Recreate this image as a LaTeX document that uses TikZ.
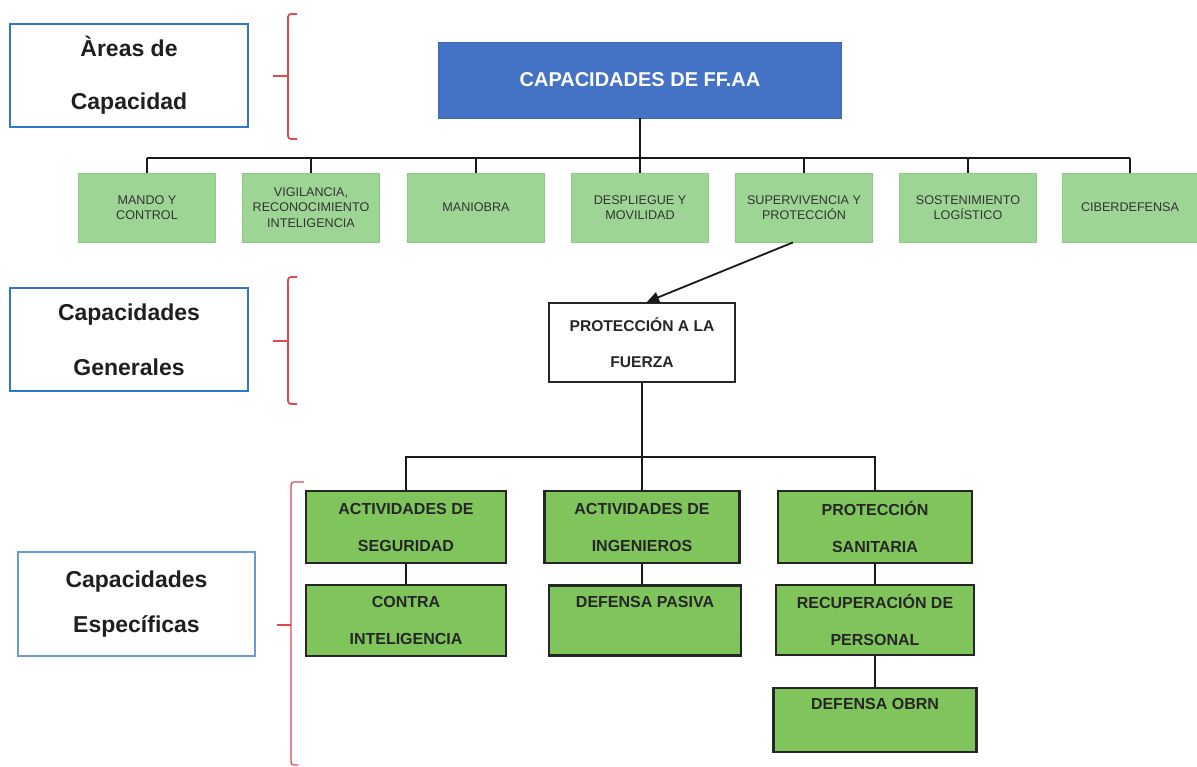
\documentclass[tikz,border=0pt]{standalone}
\usepackage{fontspec}
\setmainfont{Liberation Sans}
\usetikzlibrary{arrows.meta}
\definecolor{blueA}{HTML}{4472C4}
\definecolor{lblue}{HTML}{2E78C8}
\definecolor{lblueB}{HTML}{6C9AD6}
\definecolor{redB}{HTML}{E04850}
\definecolor{greenL}{HTML}{9DD594}
\definecolor{greenLd}{HTML}{8CC983}
\definecolor{greenD}{HTML}{80C45C}
\begin{document}
\begin{tikzpicture}[x=1pt,y=-1pt,
  lab/.style={draw=lblue,line width=1.6pt,fill=white,minimum width=238pt,minimum height=103pt,inner sep=0pt,align=center,text=black!88},
  capbox/.style={fill=blueA,draw=blueA!90!black,line width=0.6pt,minimum width=403pt,minimum height=76pt,inner sep=0pt,text=white,font=\fontsize{20}{24}\selectfont\bfseries},
  areabox/.style={fill=greenL,draw=greenLd,line width=0.8pt,minimum width=137pt,minimum height=69pt,inner sep=0pt,align=center,text=black!80,font=\fontsize{12.6}{15.5}\selectfont},
  wbox/.style={fill=white,draw=black!85,line width=2.2pt,minimum width=186pt,minimum height=79pt,inner sep=0pt,align=center,text=black!85,font=\fontsize{15.6}{36}\selectfont\bfseries},
  gbox/.style={fill=greenD,draw=black!85,line width=2.4pt,minimum height=71pt,inner sep=0pt,align=center,text=black!85,font=\fontsize{16}{37}\selectfont\bfseries},
  conn/.style={draw=black!90,line width=2.8pt},
  brk/.style={draw=redB,line width=1.8pt,rounded corners=3pt}
]
\useasboundingbox (0,0) rectangle (1197,767);
\fill[white] (0,0) rectangle (1197,767);

% left labels
\node[lab,font=\fontsize{23}{53}\selectfont\bfseries] (l1) at (129,75.5) {Àreas de\\Capacidad};
\node[lab,font=\fontsize{23}{55}\selectfont\bfseries] (l2) at (129,339.5) {Capacidades\\Generales};
\node[lab,draw=lblueB,minimum width=237pt,minimum height=104pt,font=\fontsize{23}{45}\selectfont\bfseries] (l3) at (136.5,604) {Capacidades\\Específicas};

% red brackets
\draw[brk] (297,14) -- (288,14) -- (288,139) -- (297,139);
\draw[brk,rounded corners=0pt] (273,76) -- (288,76);
\draw[brk] (297,277) -- (288,277) -- (288,404) -- (297,404);
\draw[brk,rounded corners=0pt] (273,341) -- (288,341);
\draw[brk,line width=1.3pt] (304,482) -- (291,482) -- (291,765) -- (298,765);
\draw[brk,line width=1.3pt,rounded corners=0pt] (277,625) -- (291,625);

% top box
\node[capbox] (cap) at (640,80) {CAPACIDADES DE FF.AA};

% areas
\node[areabox] (b1) at (147,207.5) {MANDO Y\\CONTROL};
\node[areabox] (b2) at (311,207.5) {VIGILANCIA,\\RECONOCIMIENTO\\INTELIGENCIA};
\node[areabox] (b3) at (476,207.5) {MANIOBRA};
\node[areabox] (b4) at (640,207.5) {DESPLIEGUE Y\\MOVILIDAD};
\node[areabox] (b5) at (804,207.5) {SUPERVIVENCIA Y\\PROTECCIÓN};
\node[areabox] (b6) at (968,207.5) {SOSTENIMIENTO\\LOGÍSTICO};
\node[areabox,minimum width=135pt] (b7) at (1130,207.5) {CIBERDEFENSA};

\coordinate (bus1) at (640,158);
\draw[conn] (b1.north |- bus1) -- (b7.north |- bus1);
\draw[conn,line width=2.4pt] (cap.south) -- (bus1);
\foreach \n in {b1,b2,b3,b4,b5,b6,b7} \draw[conn,line width=2.4pt] (bus1 -| \n.north) -- (\n.north);

% general capability
\node[wbox] (pf) at (642,342.5) {PROTECCIÓN A LA\\FUERZA};
\draw[draw=black!90,line width=1.8pt,-{Triangle[length=12pt,width=11pt]}] ([xshift=-11pt]b5.south) -- ([xshift=5pt]pf.north);

% specific capabilities
\node[gbox,minimum width=200pt,minimum height=72pt] (s1) at (406,527) {ACTIVIDADES DE\\SEGURIDAD};
\node[gbox,minimum width=200pt] (s2) at (406,620.5) {CONTRA\\INTELIGENCIA};
\node[gbox,minimum width=195pt,minimum height=72pt] (i1) at (642,527) {ACTIVIDADES DE\\INGENIEROS};
\node[gbox,minimum width=192pt,minimum height=70pt] (i2) at (645,620.5) {DEFENSA PASIVA\\\vphantom{A}};
\node[gbox,minimum width=194pt,minimum height=72pt] (p1) at (875,527) {PROTECCIÓN\\SANITARIA};
\node[gbox,minimum width=198pt,minimum height=70pt] (p2) at (875,620) {RECUPERACIÓN DE\\PERSONAL};
\node[gbox,minimum width=203pt,minimum height=64pt,font=\fontsize{16}{32}\selectfont\bfseries] (p3) at (875,720) {DEFENSA OBRN\\\vphantom{A}};

\coordinate (bus2) at (642,457);
\draw[conn] (pf.south) -- (bus2);
\draw[conn] (s1.north) |- (bus2) -| (p1.north);
\draw[conn] (bus2) -- (i1.north);
\draw[conn] (s1.south) -- (s2.north);
\draw[conn] (i1.south) -- (i1.south |- i2.north);
\draw[conn] (p1.south) -- (p2.north);
\draw[conn] (p2.south) -- (p3.north);
\end{tikzpicture}
\end{document}
